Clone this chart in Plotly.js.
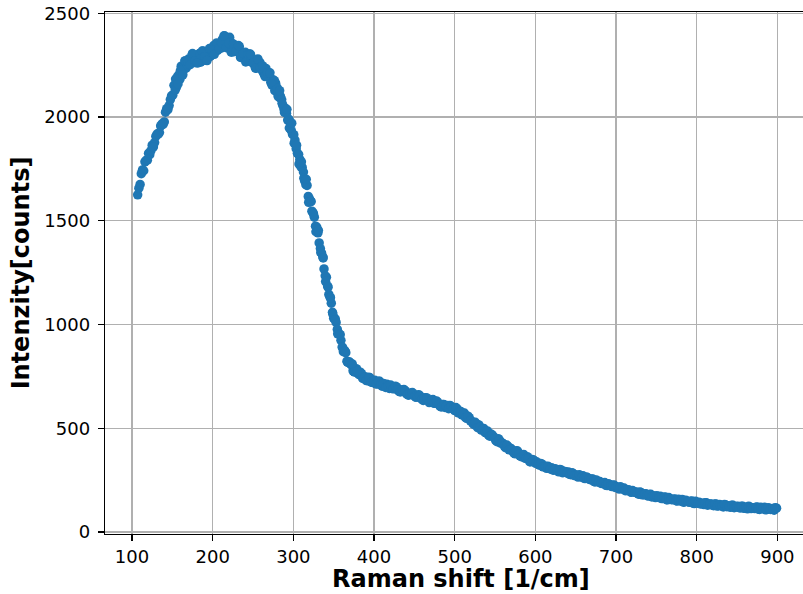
<!DOCTYPE html>
<html>
<head>
<meta charset="utf-8">
<script src="https://cdn.plot.ly/plotly-3.0.1.min.js"></script>
<style>html,body{margin:0;padding:0;background:#fff;overflow:hidden;}#chart{width:803px;height:594px;}</style>
</head>
<body>
<div id="chart"></div>
<script>
// Raman shift values [1/cm], first set of samples
const ramanShiftA = [
107,110,113,116,119,122,125,128,131,134,137,140,143,146,149,
152,155,158,161,164,167,170,173,176,179,182,185,188,191,194,197,200,203,206,209,212,215,218,221,224,227,230,233,236,239,242,245,248,251,254,257,260,263,266,269,272,275,278,281,284,287,290,
293,296,299,302,305,308,311,314,317,320,323,326,329,332,335,338,341,344,347,350,353,356,359,362,365,368,371,374,377,380,383,386,389,392,395,398,
401,404,407,410,413,416,419,422,425,428,431,434,437,440,443,446,449,452,455,458,461,464,467,470,473,476,479,482,485,488,491,494,497,500,503,506,509,512,515,518,521,524,527,530,533,536,539,542,545,548,551,554,557,560,563,566,569,572,575,578,581,584,587,590,593,596,599,
602,605,608,611,614,617,620,623,626,629,632,635,638,641,644,647,650,653,656,659,662,665,668,671,674,677,680,683,686,689,692,695,698,701,704,707,710,713,716,719,722,725,728,731,734,737,740,743,746,749,752,755,758,761,764,767,770,773,776,779,782,785,788,791,794,797,800,803,806,809,812,815,818,821,824,827,830,833,836,839,842,845,848,851,854,857,860,863,866,869,872,875,878,881,884,887,890,893,896,899
];
// Intensity [counts], first set
const intensityA = [
1625,1675,1745,1784,1792,1818,1864,1877,1918,1925,1966,1976,2040,2055,2102,
2153,2143,2203,2245,2228,2235,2279,2267,2300,2266,2295,2264,2318,2290,2307,2292,2328,2346,2321,2345,2374,2390,2362,2384,2326,2343,2317,2339,2292,2309,2273,2304,2265,2271,2235,2265,2244,2212,2234,2194,2167,2179,2163,2101,2100,2055,2042,
1985,1974,1916,1889,1825,1796,1757,1692,1670,1605,1546,1517,1469,1393,1344,1268,1228,1145,1103,1030,1010,956,924,869,864,818,809,777,787,764,770,740,748,729,743,721,
731,713,726,703,712,712,692,703,691,699,678,684,687,667,659,670,664,649,661,646,634,647,637,626,638,620,626,605,614,600,610,610,595,585,593,582,564,573,548,551,534,517,521,516,491,499,478,467,472,460,440,450,428,426,406,413,404,390,377,390,367,369,356,363,339,350,343,
337,322,328,315,307,312,310,298,300,290,299,287,289,289,276,282,273,265,271,271,258,261,252,256,241,244,243,234,238,224,229,219,225,216,207,212,212,200,203,191,194,193,182,190,180,184,174,182,172,166,171,172,162,169,155,160,155,159,149,155,157,145,149,143,149,137,143,144,137,132,141,132,135,127,135,126,129,121,130,127,119,129,121,124,116,124,116,112,121,117,113,120,109,116,119,109,115,111,105,115
];
// Raman shift values [1/cm], second (interleaved) set of samples
const ramanShiftB = [
108.5,111.5,114.5,117.5,120.5,123.5,126.5,129.5,132.5,135.5,138.5,141.5,144.5,147.5,150.5,
153.5,156.5,159.5,162.5,165.5,168.5,171.5,174.5,177.5,180.5,183.5,186.5,189.5,192.5,195.5,198.5,201.5,204.5,207.5,210.5,213.5,216.5,219.5,222.5,225.5,228.5,231.5,234.5,237.5,240.5,243.5,246.5,249.5,252.5,255.5,258.5,261.5,264.5,267.5,270.5,273.5,276.5,279.5,282.5,285.5,288.5,291.5,
294.5,297.5,300.5,303.5,306.5,309.5,312.5,315.5,318.5,321.5,324.5,327.5,330.5,333.5,336.5,339.5,342.5,345.5,348.5,351.5,354.5,357.5,360.5,363.5,366.5,369.5,372.5,375.5,378.5,381.5,384.5,387.5,390.5,393.5,396.5,399.5,
402.5,405.5,408.5,411.5,414.5,417.5,420.5,423.5,426.5,429.5,432.5,435.5,438.5,441.5,444.5,447.5,450.5,453.5,456.5,459.5,462.5,465.5,468.5,471.5,474.5,477.5,480.5,483.5,486.5,489.5,492.5,495.5,498.5,501.5,504.5,507.5,510.5,513.5,516.5,519.5,522.5,525.5,528.5,531.5,534.5,537.5,540.5,543.5,546.5,549.5,552.5,555.5,558.5,561.5,564.5,567.5,570.5,573.5,576.5,579.5,582.5,585.5,588.5,591.5,594.5,597.5,600.5,
603.5,606.5,609.5,612.5,615.5,618.5,621.5,624.5,627.5,630.5,633.5,636.5,639.5,642.5,645.5,648.5,651.5,654.5,657.5,660.5,663.5,666.5,669.5,672.5,675.5,678.5,681.5,684.5,687.5,690.5,693.5,696.5,699.5,702.5,705.5,708.5,711.5,714.5,717.5,720.5,723.5,726.5,729.5,732.5,735.5,738.5,741.5,744.5,747.5,750.5,753.5,756.5,759.5,762.5,765.5,768.5,771.5,774.5,777.5,780.5,783.5,786.5,789.5,792.5,795.5,798.5,801.5,804.5,807.5,810.5,813.5,816.5,819.5,822.5,825.5,828.5,831.5,834.5,837.5,840.5,843.5,846.5,849.5,852.5,855.5,858.5,861.5,864.5,867.5,870.5,873.5,876.5,879.5,882.5,885.5,888.5,891.5,894.5,897.5
];
// Intensity [counts], second set
const intensityB = [
1657,1727,1741,1791,1825,1838,1856,1907,1917,1957,1964,2023,2036,2084,2105,
2130,2195,2183,2239,2270,2247,2262,2299,2263,2287,2306,2280,2273,2312,2312,2298,2345,2326,2353,2332,2378,2350,2349,2361,2314,2333,2333,2287,2308,2312,2276,2303,2270,2245,2263,2263,2223,2202,2218,2193,2154,2175,2143,2094,2084,2036,2018,
1989,1934,1915,1847,1820,1759,1735,1674,1617,1592,1538,1474,1442,1366,1326,1235,1185,1131,1059,1029,976,952,891,875,823,819,804,772,786,758,763,744,730,746,722,728,
714,726,710,716,697,705,708,690,702,685,675,684,681,662,667,672,653,652,659,639,646,646,624,633,620,631,615,603,615,607,594,606,592,600,574,581,568,551,558,536,524,529,503,506,495,480,487,462,468,453,435,443,430,414,419,396,400,380,391,374,363,374,355,356,338,347,331,
326,330,314,317,317,304,299,305,297,301,286,292,284,278,285,272,274,276,264,258,265,255,256,244,251,240,234,236,225,233,222,226,214,216,218,206,199,204,194,200,191,186,193,179,183,175,181,169,173,175,166,161,167,156,166,157,158,151,158,149,144,153,146,148,139,148,139,135,139,141,129,135,129,135,125,132,127,133,122,123,129,117,123,118,124,114,120,124,113,115,119,110,119,112,107,117,109,113,117
];
// Raman shift values [1/cm], third set (peak and steep fall region)
const ramanShiftC = [
154,157,160,163,166,169,172,175,178,181,184,187,190,193,196,199,202,205,208,211,214,217,220,223,226,229,232,235,238,241,244,247,250,253,256,259,262,265,268,271,274,277,280,283,286,289,
292,295,298,301,304,307,310,313,316,319,322,325,328,331,334,337,340,343,346,349,352,355,358,361,364,367,370,373,376,379
];
// Intensity [counts], third set
const intensityC = [
2183,2159,2224,2203,2270,2267,2252,2306,2270,2260,2303,2318,2290,2272,2330,2323,2302,2357,2330,2358,2391,2334,2356,2312,2351,2316,2344,2293,2306,2265,2301,2300,2259,2236,2280,2238,2246,2195,2213,2213,2157,2127,2137,2127,2066,2022,
2037,1947,1970,1874,1864,1774,1784,1705,1700,1589,1593,1532,1447,1454,1347,1321,1207,1180,1129,1049,1023,955,951,889,871,819,818,810,772,773
];
const xTickVals = [100,200,300,400,500,600,700,800,900];
const yTickVals = [0,500,1000,1500,2000,2500];
const xTitle = 'Raman shift [1/cm]';
const yTitle = 'Intenzity[counts]';

const trace = {
  x: ramanShiftA.concat(ramanShiftB, ramanShiftC),
  y: intensityA.concat(intensityB, intensityC),
  type: 'scatter', mode: 'markers',
  marker: {color: '#1f77b4', size: 9.5, line: {width: 0}},
  hoverinfo: 'skip'
};
const tickFont = {family: 'DejaVu Sans', size: 18, color: '#000'};
const titleFont = {family: 'DejaVu Sans', size: 24, color: '#000', weight: 'bold'};
const layout = {
  width: 803, height: 594,
  margin: {l: 105, r: 0, t: 12, b: 60, pad: 0},
  paper_bgcolor: '#fff', plot_bgcolor: '#fff',
  showlegend: false,
  xaxis: {
    range: [66.5, 931.8], tickvals: xTickVals, ticktext: xTickVals.map(String),
    showgrid: true, gridcolor: '#b0b0b0', gridwidth: 1.2,
    showline: true, linecolor: '#000', linewidth: 1.3, mirror: true,
    ticks: 'outside', ticklen: 6, tickwidth: 1.3, tickcolor: '#000',
    tickfont: tickFont, zeroline: false, automargin: false
  },
  yaxis: {
    range: [-9.6, 2506], tickvals: yTickVals, ticktext: yTickVals.map(String),
    showgrid: true, gridcolor: '#b0b0b0', gridwidth: 1.2,
    showline: true, linecolor: '#000', linewidth: 1.3, mirror: false,
    ticks: 'outside', ticklen: 6, tickwidth: 1.3, tickcolor: '#000',
    ticklabelstandoff: 4,
    tickfont: tickFont, zeroline: false, automargin: false,
    title: {text: yTitle, font: titleFont, standoff: 8}
  },
  annotations: [{
    text: xTitle, font: titleFont, showarrow: false,
    xref: 'paper', yref: 'paper', x: 0.51, y: -0.086,
    xanchor: 'center', yanchor: 'middle'
  }]
};
Plotly.newPlot('chart', [trace], layout, {staticPlot: true, displayModeBar: false});
</script>
</body>
</html>
